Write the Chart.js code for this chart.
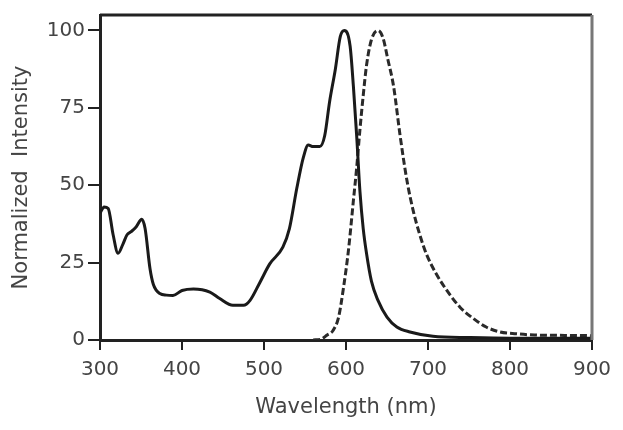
<!DOCTYPE html>
<html lang="en">
  <head>
    <meta charset="UTF-8" />
    <title>Normalized Intensity vs Wavelength</title>
    <style>
      body {
        margin: 0;
        padding: 0;
        background-color: #fff;
      }
      #chartBox {
        width: 623px;
        height: 430px;
      }
    </style>
  </head>
  <body>
    <div id="chartBox">
      <canvas id="myChart" width="623" height="430"></canvas>
    </div>
    <script src="https://cdn.jsdelivr.net/npm/chart.js"></script>
    <script>
      // absorption (solid) curve
      const absWavelength = [300, 305, 310, 316, 322, 328, 333, 338, 344, 351, 355, 361, 365, 373, 381, 389, 400, 414, 434, 446, 462, 475, 483, 495, 507, 523, 531, 540, 548, 554, 560, 568, 574, 580, 587, 593, 598, 605, 609, 613, 617, 621, 625, 631, 639, 650, 662, 678, 706, 750, 800, 850, 900];
      const absIntensity = [41, 43, 42.5, 34, 28, 31, 34, 35, 36.5, 39, 36, 23, 18, 15, 14.5, 14.4, 16, 16.5, 15.5, 13.4, 11.2, 11.2, 12.8, 18.6, 24.6, 30, 36, 49, 59, 63, 62.5, 62.5, 66, 77, 87.5, 98, 100, 95, 82, 66, 48, 36, 28, 19, 12.8, 7.4, 4.2, 2.6, 1.2, 0.8, 0.6, 0.6, 0.6];

      // emission (dashed) curve
      const emWavelength = [560, 570, 577, 584, 591, 597, 603, 609, 613, 617, 621, 625, 631, 639, 645, 651, 658, 666, 674, 682, 690, 698, 710, 723, 739, 755, 771, 788, 808, 830, 860, 900];
      const emIntensity = [0, 0.3, 1.6, 3, 7.4, 17, 29, 45, 55.6, 68, 79, 88.7, 97, 100, 97.7, 90.7, 82, 66, 52, 41.7, 34, 27.8, 21.4, 16, 10.6, 7, 4.2, 2.6, 2, 1.6, 1.5, 1.4];

      const xTicks = [300, 400, 500, 600, 700, 800, 900];
      const yTicks = [0, 25, 50, 75, 100];

      const toPoints = (xs, ys) => xs.map((x, i) => ({ x: x, y: ys[i] }));

      // top and right edges of the plot frame
      const framePlugin = {
        id: "frame",
        afterDatasetsDraw(chart) {
          const { ctx, chartArea } = chart;
          ctx.save();
          ctx.lineWidth = 3;
          ctx.strokeStyle = "#222";
          ctx.beginPath();
          ctx.moveTo(chartArea.left, chartArea.top);
          ctx.lineTo(chartArea.right, chartArea.top);
          ctx.stroke();
          ctx.strokeStyle = "#777";
          ctx.beginPath();
          ctx.moveTo(chartArea.right, chartArea.top);
          ctx.lineTo(chartArea.right, chartArea.bottom);
          ctx.stroke();
          ctx.restore();
        },
      };

      const tickFont = { family: "DejaVu Sans", size: 20 };
      const titleFont = { family: "DejaVu Sans", size: 21 };

      new Chart(document.getElementById("myChart"), {
        type: "line",
        data: {
          datasets: [
            {
              label: "Absorption",
              data: toPoints(absWavelength, absIntensity),
              borderColor: "#1a1a1a",
              borderWidth: 3,
              pointRadius: 0,
              cubicInterpolationMode: "monotone",
            },
            {
              label: "Emission",
              data: toPoints(emWavelength, emIntensity),
              borderColor: "#2a2a2a",
              borderWidth: 3,
              borderDash: [7, 3],
              pointRadius: 0,
              cubicInterpolationMode: "monotone",
            },
          ],
        },
        options: {
          responsive: false,
          animation: false,
          layout: { padding: { left: 0, top: 13, right: 31, bottom: 0 } },
          plugins: {
            legend: { display: false },
            tooltip: { enabled: false },
          },
          scales: {
            x: {
              type: "linear",
              min: 300,
              max: 900,
              afterBuildTicks: (scale) => {
                scale.ticks = xTicks.map((v) => ({ value: v }));
              },
              afterFit: (scale) => {
                scale.height = 90;
              },
              border: { color: "#222", width: 3 },
              grid: {
                drawOnChartArea: false,
                tickLength: 10,
                color: "#222",
                lineWidth: 2,
              },
              ticks: { color: "#444", font: tickFont, padding: 8 },
              title: {
                display: true,
                text: "Wavelength (nm)",
                color: "#444",
                font: titleFont,
                padding: { top: 0, bottom: 10 },
              },
            },
            y: {
              min: 0,
              max: 105,
              afterBuildTicks: (scale) => {
                scale.ticks = yTicks.map((v) => ({ value: v }));
              },
              afterFit: (scale) => {
                scale.width = 100;
              },
              border: { color: "#222", width: 3 },
              grid: {
                drawOnChartArea: false,
                tickLength: 12,
                color: "#222",
                lineWidth: 2,
              },
              ticks: { color: "#444", font: tickFont, padding: 3 },
              title: {
                display: true,
                text: "Normalized  Intensity",
                color: "#444",
                font: titleFont,
                padding: { top: 9, bottom: 0 },
              },
            },
          },
        },
        plugins: [framePlugin],
      });
    </script>
  </body>
</html>
